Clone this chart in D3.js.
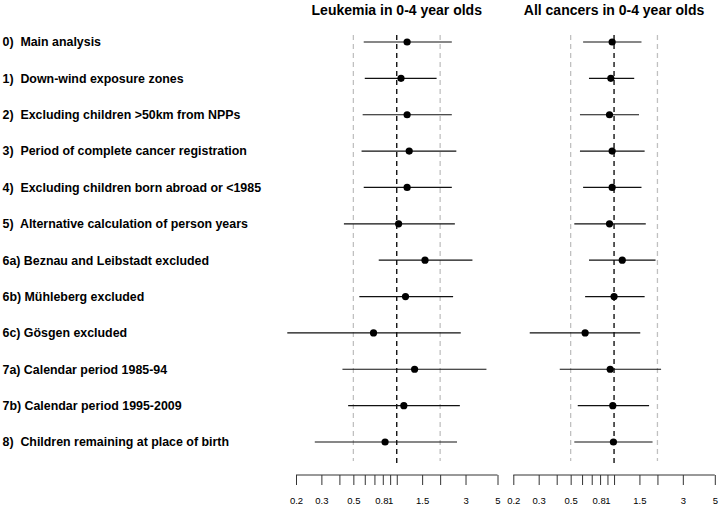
<!DOCTYPE html>
<html><head><meta charset="utf-8">
<script src="https://cdn.jsdelivr.net/npm/d3@7"></script>
<style>body{margin:0;background:#fff}svg{display:block}</style>
</head><body>
<script>
const labels = [
  "0)  Main analysis",
  "1)  Down-wind exposure zones",
  "2)  Excluding children >50km from NPPs",
  "3)  Period of complete cancer registration",
  "4)  Excluding children born abroad or <1985",
  "5)  Alternative calculation of person years",
  "6a) Beznau and Leibstadt excluded",
  "6b) Mühleberg excluded",
  "6c) Gösgen excluded",
  "7a) Calendar period 1985-94",
  "7b) Calendar period 1995-2009",
  "8)  Children remaining at place of birth"
];
const leukEst   = [1.18, 1.07, 1.18, 1.22, 1.18, 1.03, 1.57, 1.15, 0.69, 1.33, 1.12, 0.83];
const leukLow   = [0.59, 0.60, 0.58, 0.57, 0.59, 0.43, 0.75, 0.55, 0.174, 0.42, 0.46, 0.27];
const leukHigh  = [2.41, 1.89, 2.41, 2.59, 2.41, 2.53, 3.35, 2.46, 2.78, 4.19, 2.74, 2.62];
const allEst    = [0.97, 0.95, 0.93, 0.97, 0.97, 0.93, 1.14, 1.00, 0.63, 0.94, 0.98, 0.99];
const allLow    = [0.61, 0.67, 0.58, 0.58, 0.61, 0.53, 0.67, 0.63, 0.26, 0.42, 0.56, 0.53];
const allHigh   = [1.55, 1.38, 1.49, 1.63, 1.55, 1.66, 1.94, 1.63, 1.52, 2.12, 1.75, 1.85];
const panelTitles = ["Leukemia in 0-4 year olds", "All cancers in 0-4 year olds"];
const tickValues = [0.2, 0.3, 0.4, 0.5, 0.6, 0.7, 0.8, 0.9, 1, 1.5, 2, 3, 5];
const tickLabels = ["0.2", "0.3", "", "0.5", "", "", "0.8", "1", "", "1.5", "", "3", "5"];
const refLines = [0.5, 2];

const W = 721, H = 507;
const svg = d3.select("body").append("svg").attr("width", W).attr("height", H);

const y = d3.scalePoint().domain(d3.range(labels.length)).range([42, 442]);

svg.append("g").selectAll("text").data(labels).join("text")
  .attr("x", 2.5).attr("y", (d, i) => y(i)).attr("dy", "0.35em")
  .attr("font-family", "Liberation Sans, Arial, sans-serif")
  .attr("font-weight", "bold").attr("font-size", 12.4)
  .style("white-space", "pre").attr("xml:space", "preserve")
  .text(d => d);

const panels = [
  {x0: 296, est: leukEst, low: leukLow, high: leukHigh, title: panelTitles[0]},
  {x0: 513.3, est: allEst, low: allLow, high: allHigh, title: panelTitles[1]}
];

panels.forEach(p => {
  const x = d3.scaleLog().domain([0.2, 5]).range([p.x0, p.x0 + 201.5]);
  const g = svg.append("g");
  g.append("text").attr("x", x(1)).attr("y", 15).attr("text-anchor", "middle")
    .attr("font-family", "Liberation Sans, Arial, sans-serif")
    .attr("font-weight", "bold").attr("font-size", 14).text(p.title);
  g.selectAll("line.ref").data(refLines).join("line").attr("class", "ref")
    .attr("x1", d => x(d)).attr("x2", d => x(d)).attr("y1", 35).attr("y2", 461)
    .attr("stroke", "#c0c0c0").attr("stroke-width", 1.3).attr("stroke-dasharray", "5,4");
  g.append("line").attr("x1", x(1)).attr("x2", x(1)).attr("y1", 35).attr("y2", 463)
    .attr("stroke", "#000").attr("stroke-width", 1.3).attr("stroke-dasharray", "5,4");
  g.selectAll("line.ci").data(p.est).join("line").attr("class", "ci")
    .attr("x1", (d, i) => x(p.low[i])).attr("x2", (d, i) => x(p.high[i]))
    .attr("y1", (d, i) => y(i)).attr("y2", (d, i) => y(i))
    .attr("stroke", "#111").attr("stroke-width", 1.2);
  g.selectAll("circle").data(p.est).join("circle")
    .attr("cx", d => x(d)).attr("cy", (d, i) => y(i)).attr("r", 3.6).attr("fill", "#000");
  const axis = d3.axisBottom(x).tickValues(tickValues)
    .tickFormat((d, i) => tickLabels[i]).tickSize(10).tickPadding(12);
  const ag = g.append("g").attr("transform", "translate(0,475)").call(axis);
  ag.select(".domain").attr("d", `M${x(0.2)},0H${x(5)}`).attr("stroke", "#333");
  ag.selectAll(".tick line").attr("stroke", "#333");
  ag.selectAll("text").attr("font-family", "Liberation Sans, Arial, sans-serif")
    .attr("font-size", 9.5).attr("fill", "#000");
  ag.selectAll(".tick text").filter(d => d === 0.8).attr("dx", "-0.15em");
});
</script>
</body></html>
